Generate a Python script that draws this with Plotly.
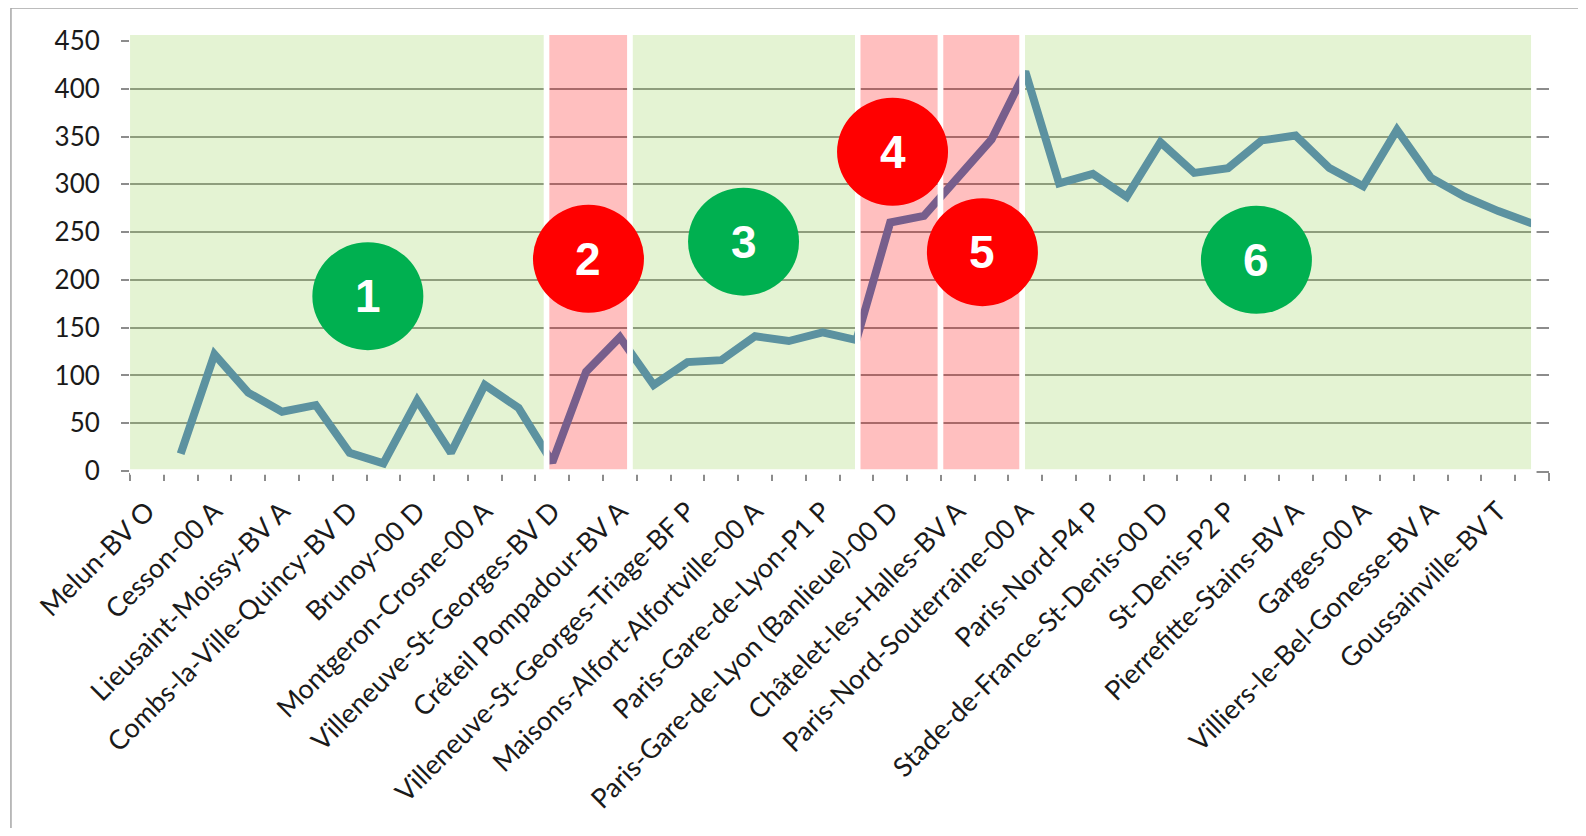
import plotly.graph_objects as go

# station labels shown on the axis (every other measuring point)
stations = [
    "Melun-BV O", "Cesson-00 A", "Lieusaint-Moissy-BV A", "Combs-la-Ville-Quincy-BV D",
    "Brunoy-00 D", "Montgeron-Crosne-00 A", "Villeneuve-St-Georges-BV D",
    "Créteil Pompadour-BV A", "Villeneuve-St-Georges-Triage-BF P",
    "Maisons-Alfort-Alfortville-00 A", "Paris-Gare-de-Lyon-P1 P",
    "Paris-Gare-de-Lyon (Banlieue)-00 D", "Châtelet-les-Halles-BV A",
    "Paris-Nord-Souterraine-00 A", "Paris-Nord-P4 P", "Stade-de-France-St-Denis-00 D",
    "St-Denis-P2 P", "Pierrefitte-Stains-BV A", "Garges-00 A",
    "Villiers-le-Bel-Gonesse-BV A", "Goussainville-BV T",
]
station_idx = list(range(0, 42, 2))

# load at each of the 42 measuring points
load = [
    None, 18, 122, 82, 62, 69, 19, 8, 74, 19, 90, 66, 9, 104, 140, 90, 114, 116,
    141, 136, 145, 137, 260, 267, 306, 347, 418, 301, 311, 287, 344, 312, 317,
    346, 351, 317, 298, 357, 307, 287, 272, 259,
]
points = list(range(len(load)))

# section bands (ok = green, bad = red) and numbered markers
sections = [(-0.58, 11.83, "ok"), (11.83, 14.30, "bad"), (14.30, 21.04, "ok"),
            (21.04, 23.49, "bad"), (23.49, 25.91, "bad"), (25.91, 41.05, "ok")]
badges = [("1", 6.54, 183, "ok"), ("2", 13.07, 222, "bad"), ("3", 17.66, 240, "ok"),
          ("4", 22.07, 334, "bad"), ("5", 24.73, 229, "bad"), ("6", 32.84, 221, "ok")]

BAND = {"ok": "rgba(146,208,80,0.25)", "bad": "rgba(255,0,0,0.25)"}
BADGE = {"ok": "#00B050", "bad": "#FF0000"}
GRID = "#8c8c8c"
TXT = "#1a1a1a"

fig = go.Figure()
fig.add_trace(go.Scatter(
    x=points, y=load, mode="lines",
    line=dict(color="#4A7EBB", width=8),
    connectgaps=False, showlegend=False, hoverinfo="skip",
))

# bands sit over the line like the semi-transparent shapes of the original
for x0, x1, kind in sections:
    fig.add_shape(type="rect", xref="x", yref="paper", x0=x0, x1=x1, y0=-0.0023, y1=1.0203,
                  fillcolor=BAND[kind], line=dict(color="white", width=5.5), layer="above")

for label, cx, cy, kind in badges:
    fig.add_shape(type="circle", xref="x", yref="y", xsizemode="pixel", ysizemode="pixel",
                  xanchor=cx, yanchor=cy, x0=-55.5, x1=55.5, y0=-54, y1=54,
                  fillcolor=BADGE[kind], line=dict(width=0), layer="above")
    fig.add_annotation(x=cx, y=cy, text=label, showarrow=False, yshift=0,
                       font=dict(family="Liberation Sans Narrow, Liberation Sans, sans-serif",
                                 size=46, color="white", weight="bold"))

# chart frame (only top and left edges are in view)
fig.add_shape(type="rect", xref="paper", yref="paper", x0=-0.0839, x1=1.2, y0=-1.2, y1=1.0767,
              line=dict(color="#a6a6a6", width=1.5), fillcolor="rgba(0,0,0,0)", layer="below")

fig.update_layout(
    width=1570, height=820,
    margin=dict(l=122, r=29, t=33, b=357),
    paper_bgcolor="white", plot_bgcolor="white",
    font=dict(family="Lato, sans-serif", color=TXT),
    showlegend=False,
)
fig.update_xaxes(
    range=[-0.5, 41.5], tickmode="array", tickvals=station_idx, ticktext=stations,
    tickangle=-45, ticks="", showgrid=False, zeroline=False,
    showline=True, linecolor=GRID, linewidth=1.5,
    tickfont=dict(size=27, color=TXT), ticklabelstandoff=12, automargin=False,
    minor=dict(ticks="outside", tick0=-0.5, dtick=1, ticklen=8, tickwidth=1.5,
               tickcolor=GRID, showgrid=False),
)
fig.update_yaxes(
    range=[0, 450], tickmode="linear", tick0=0, dtick=50,
    ticks="outside", ticklen=8, tickwidth=1.5, tickcolor=GRID,
    showgrid=True, gridcolor=GRID, gridwidth=2, zeroline=False, showline=False,
    tickfont=dict(size=26, color=TXT), ticklabelstandoff=16, automargin=False,
)

fig.write_html("out.html")
